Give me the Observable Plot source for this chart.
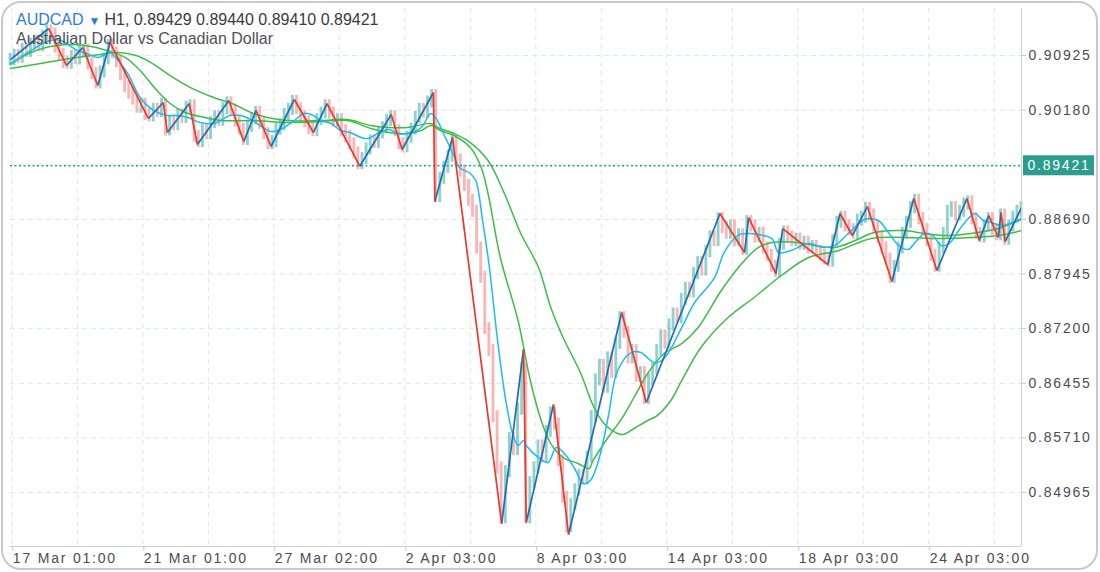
<!DOCTYPE html>
<html><head><meta charset="utf-8">
<script src="https://cdn.jsdelivr.net/npm/d3@7"></script>
<script src="https://cdn.jsdelivr.net/npm/@observablehq/plot@0.6"></script>
<style>
html,body{margin:0;padding:0;background:#fff;}
#wrap{position:relative;width:1100px;height:572px;overflow:hidden;font-family:"Liberation Sans",Arial,sans-serif;}
#chart{position:absolute;left:0;top:0;}
#card{position:absolute;left:1px;top:1px;width:1093px;height:565px;border:2px solid #c9c9c9;border-radius:20px;pointer-events:none;}
#title{position:absolute;left:16px;top:10px;font-size:16px;line-height:20px;color:#3a3a42;white-space:nowrap;}
#title .sym{color:#2c7be5}
#title .tri{color:#2c7be5;font-size:12px;margin:0 4px 0 5px;}
#sub{position:absolute;left:16px;top:29px;font-size:16px;line-height:20px;color:#50505a;white-space:nowrap;}
#chart svg text{letter-spacing:1.8px}
</style></head><body>
<div id="wrap">
  <div id="chart"></div>
  <div id="title"><span class="sym">AUDCAD</span><span class="tri">▼</span>H1, 0.89429 0.89440 0.89410 0.89421</div>
  <div id="sub">Australian Dollar vs Canadian Dollar</div>
  <div id="card"></div>
</div>
<script>
// ---- data ----
const curPrice = 0.89421;
const yTickVals = [0.84965,0.85710,0.86455,0.87200,0.87945,0.88690,0.90180,0.90925];
const yGridVals = [0.84965,0.85710,0.86455,0.87200,0.87945,0.88690,0.89435,0.90180,0.90925];
const xTickBars = [1,97,193,289,385,481,577,673];
const xTickLabels = ["17 Mar 01:00","21 Mar 01:00","27 Mar 02:00","2 Apr 03:00","8 Apr 03:00","14 Apr 03:00","18 Apr 03:00","24 Apr 03:00"];
const xGridBars = [1,49,97,145,193,241,289,337,385,433,481,529,577,625,673,721];
const lastBar = 741;
const barStep = 3;

// close every 3 hourly bars
const closes = [
0.9087,0.9093,0.9090,0.9101,0.9098,0.9108,0.9112,0.9106,0.9119,0.9126,
0.9122,0.9104,0.9094,0.9083,0.9082,0.9091,0.9088,0.9099,0.9100,0.9081,
0.9068,0.9055,0.9070,0.9088,0.9106,0.9096,0.9084,0.9066,0.9050,0.9041,
0.9033,0.9022,0.9026,0.9012,0.9010,0.9019,0.9016,0.9026,0.8991,0.9003,
0.8998,0.9012,0.9008,0.9022,0.9024,0.8982,0.8975,0.8990,0.8986,0.9001,
0.9009,0.9004,0.9020,0.9028,0.9018,0.9003,0.8992,0.8978,0.8996,0.9006,
0.9015,0.9000,0.8986,0.8972,0.8975,0.8992,0.8998,0.9012,0.9019,0.9030,
0.9020,0.9009,0.9002,0.8993,0.8990,0.9005,0.9014,0.9024,0.9014,0.9003,
0.9005,0.8990,0.8982,0.8972,0.8960,0.8945,0.8952,0.8965,0.8976,0.8974,
0.8987,0.8994,0.9004,0.9009,0.8990,0.8972,0.8968,0.8981,0.8992,0.9008,
0.9019,0.9015,0.9029,0.9038,0.8900,0.8925,0.8940,0.8955,0.8975,0.8950,
0.8935,0.8915,0.8895,0.8880,0.8830,0.8790,0.8720,0.8690,0.8600,0.8530,
0.8462,0.8525,0.8570,0.8555,0.8610,0.8665,0.8462,0.8510,0.8530,0.8560,
0.8545,0.8580,0.8605,0.8590,0.8540,0.8490,0.8450,0.8480,0.8500,0.8520,
0.8515,0.8545,0.8600,0.8650,0.8670,0.8640,0.8680,0.8660,0.8700,0.8735,
0.8715,0.8680,0.8690,0.8655,0.8660,0.8625,0.8650,0.8665,0.8690,0.8710,
0.8700,0.8725,0.8740,0.8735,0.8760,0.8775,0.8770,0.8795,0.8810,0.8800,
0.8825,0.8845,0.8840,0.8870,0.8858,0.8850,0.8860,0.8840,0.8848,0.8828,
0.8866,0.8860,0.8845,0.8850,0.8830,0.8820,0.8805,0.8798,0.8835,0.8852,
0.8845,0.8840,0.8842,0.8835,0.8838,0.8830,0.8832,0.8825,0.8820,0.8815,
0.8812,0.8840,0.8865,0.8872,0.8860,0.8855,0.8850,0.8868,0.8872,0.8884,
0.8875,0.8860,0.8845,0.8830,0.8815,0.8790,0.8805,0.8830,0.8850,0.8865,
0.8885,0.8895,0.8870,0.8855,0.8840,0.8820,0.8805,0.8830,0.8850,0.8880,
0.8885,0.8875,0.8880,0.8890,0.8893,0.8870,0.8850,0.8845,0.8860,0.8870,
0.8855,0.8848,0.8875,0.8842,0.8860,0.8872,0.8880,0.8885
];

const zigBars = [0,28,41,53,64,73,101,112,115,131,137,160,171,180,191,208,222,232,256,279,287,310,311,324,360,376,378,398,409,448,466,520,538,541,561,566,599,608,617,628,646,662,679,701,710,717,724,726,729,741];
const zigPrices = [0.90870,0.91293,0.90789,0.91034,0.90516,0.91102,0.90066,0.90284,0.89875,0.90270,0.89711,0.90311,0.89752,0.90175,0.89684,0.90325,0.89875,0.90270,0.89415,0.90120,0.89643,0.90420,0.88934,0.89807,0.84542,0.86915,0.84556,0.86165,0.84392,0.87420,0.86192,0.88770,0.88238,0.88715,0.87952,0.88565,0.88075,0.88770,0.88470,0.88865,0.87843,0.88975,0.87993,0.88975,0.88402,0.88743,0.88443,0.88784,0.88388,0.88852];

const fastMA = [[0,0.90802],[15,0.90993],[29,0.91129],[37,0.91129],[49,0.90993],[56,0.90952],[64,0.90898],[73,0.90966],[77,0.90898],[86,0.90679],[95,0.90352],[105,0.90175],[115,0.90107],[122,0.90107],[130,0.90079],[139,0.90011],[149,0.89998],[161,0.90107],[169,0.90107],[176,0.90052],[183,0.89970],[191,0.89888],[198,0.89916],[208,0.90038],[215,0.90134],[222,0.90107],[227,0.90038],[235,0.89998],[242,0.89902],[249,0.89875],[257,0.89807],[262,0.89793],[269,0.89861],[277,0.89916],[284,0.89861],[291,0.89861],[301,0.89943],[308,0.90134],[312,0.90066],[318,0.89834],[325,0.89561],[329,0.89397],[337,0.89316],[341,0.89220],[346,0.88675],[351,0.88034],[357,0.87038],[363,0.86220],[368,0.85770],[372,0.85606],[376,0.85674],[378,0.85606],[387,0.85442],[394,0.85374],[400,0.85579],[406,0.85497],[413,0.85306],[420,0.85088],[425,0.85129],[431,0.85402],[438,0.85988],[445,0.86629],[455,0.86874],[462,0.86874],[472,0.86738],[479,0.86793],[492,0.87215],[501,0.87543],[516,0.87897],[523,0.88238],[533,0.88470],[541,0.88497],[548,0.88484],[558,0.88429],[563,0.88238],[572,0.88265],[585,0.88361],[596,0.88306],[604,0.88334],[614,0.88497],[626,0.88688],[636,0.88675],[644,0.88497],[651,0.88334],[658,0.88279],[663,0.88375],[670,0.88497],[676,0.88470],[682,0.88334],[688,0.88361],[695,0.88538],[702,0.88702],[707,0.88770],[713,0.88675],[719,0.88647],[726,0.88606],[734,0.88647],[741,0.88702]];

const midMA = [[0,0.90816],[15,0.90966],[29,0.91048],[44,0.91075],[59,0.91048],[73,0.90979],[84,0.90898],[95,0.90720],[106,0.90475],[117,0.90270],[128,0.90148],[139,0.90093],[154,0.90038],[178,0.90038],[203,0.90011],[227,0.90025],[247,0.90038],[264,0.89929],[277,0.89875],[291,0.89861],[301,0.89902],[308,0.89970],[315,0.89902],[325,0.89834],[337,0.89670],[345,0.89397],[350,0.89043],[359,0.88170],[372,0.87311],[381,0.86493],[389,0.85947],[396,0.85633],[405,0.85442],[416,0.85361],[424,0.85292],[427,0.85402],[438,0.85715],[448,0.85974],[457,0.86261],[467,0.86588],[479,0.86861],[492,0.86997],[504,0.87215],[521,0.87720],[536,0.88088],[548,0.88306],[558,0.88375],[577,0.88375],[589,0.88334],[604,0.88306],[619,0.88402],[633,0.88511],[655,0.88538],[670,0.88497],[687,0.88470],[704,0.88497],[724,0.88566],[741,0.88688]];

const slowMA = [[0,0.90748],[22,0.90816],[44,0.90884],[66,0.90939],[79,0.90966],[92,0.90925],[103,0.90829],[117,0.90652],[132,0.90488],[147,0.90366],[164,0.90257],[178,0.90134],[203,0.90038],[227,0.90038],[247,0.90052],[264,0.89970],[277,0.89943],[291,0.89943],[308,0.89998],[313,0.89943],[325,0.89861],[337,0.89738],[350,0.89493],[362,0.89043],[374,0.88497],[387,0.88034],[396,0.87488],[405,0.87079],[418,0.86588],[427,0.86152],[435,0.85906],[445,0.85770],[449,0.85756],[457,0.85838],[467,0.85947],[474,0.86015],[484,0.86220],[492,0.86493],[506,0.86943],[526,0.87352],[545,0.87625],[565,0.87925],[585,0.88170],[607,0.88266],[631,0.88429],[655,0.88443],[680,0.88429],[704,0.88443],[724,0.88470],[741,0.88538]];

// ---- derived tables ----
const candles = closes.map((c, i) => ({bar: i * barStep, open: i ? closes[i - 1] : c, close: c}));
const segs = zigBars.slice(1).map((b, i) => ({x1: zigBars[i], y1: zigPrices[i], x2: b, y2: zigPrices[i + 1]}));
const yDomain = [0.84229, 0.91566];
const fmt = d3.format(".5f");

const candleOpts = {x1: d => d.bar - 1.05, x2: d => d.bar + 1.05, y1: "open", y2: "close", insetTop: -6, insetBottom: -6};

const chart = Plot.plot({
  width: 1100, height: 572,
  marginLeft: 10, marginRight: 79, marginTop: 8, marginBottom: 26,
  x: {domain: [0, lastBar], axis: null},
  y: {domain: yDomain, axis: null},
  style: {fontFamily: "'Liberation Sans', Arial, sans-serif", fontSize: "14px", background: "transparent", overflow: "visible"},
  marks: [
    Plot.gridY(yGridVals, {stroke: "#dfe6ec", strokeOpacity: 1, strokeDasharray: "5,4"}),
    Plot.gridX(xGridBars, {stroke: "#dfe6ec", strokeOpacity: 1, strokeDasharray: "5,4"}),
    Plot.rect(candles.filter(d => d.close >= d.open), {...candleOpts, fill: "#26a69a", fillOpacity: 0.5}),
    Plot.rect(candles.filter(d => d.close < d.open), {...candleOpts, fill: "#ef5350", fillOpacity: 0.42}),
    Plot.line(slowMA, {x: d => d[0], y: d => d[1], stroke: "#3dbd48", strokeWidth: 1.5, curve: "catmull-rom"}),
    Plot.line(midMA, {x: d => d[0], y: d => d[1], stroke: "#3dbd48", strokeWidth: 1.5, curve: "catmull-rom"}),
    Plot.line(fastMA, {x: d => d[0], y: d => d[1], stroke: "#1cbcf2", strokeWidth: 1.5, curve: "catmull-rom"}),
    Plot.ruleY([curPrice], {stroke: "#2e9e94", strokeWidth: 1.5, strokeDasharray: "2,2.5"}),
    Plot.link(segs.filter(d => d.y2 > d.y1), {x1: "x1", y1: "y1", x2: "x2", y2: "y2", stroke: "#1f6db5", strokeWidth: 1.7}),
    Plot.link(segs.filter(d => d.y2 <= d.y1), {x1: "x1", y1: "y1", x2: "x2", y2: "y2", stroke: "#e8392d", strokeWidth: 1.7}),
    Plot.ruleY([yDomain[0]], {stroke: "#cfcfcf"}),
    Plot.ruleX([lastBar], {stroke: "#cfcfcf"}),
    Plot.axisY(yTickVals, {anchor: "right", tickSize: 4, tickPadding: 3, tickFormat: fmt, stroke: "#c8c8c8", fill: "#4b4b55", textAnchor: "start", fontSize: 14}),
    Plot.axisX(xTickBars, {anchor: "bottom", tickSize: 5, tickPadding: 2, tickFormat: d => xTickLabels[xTickBars.indexOf(d)], textAnchor: "start", dx: 1, stroke: "#c8c8c8", fill: "#4b4b55", fontSize: 14})
  ]
});
document.getElementById("chart").append(chart);

// current price label box on the right axis
const py = chart.scale("y").apply(curPrice);
const px = chart.scale("x").apply(lastBar);
const g = d3.select(chart).append("g");
g.append("rect").attr("x", px + 2).attr("y", py - 10).attr("width", 71).attr("height", 20).attr("fill", "#2a9d8f");
g.append("text").attr("x", px + 38).attr("y", py).attr("dy", "0.36em").attr("text-anchor", "middle")
  .attr("fill", "#fff").attr("font-size", 14).text(fmt(curPrice));
</script>
</body></html>
